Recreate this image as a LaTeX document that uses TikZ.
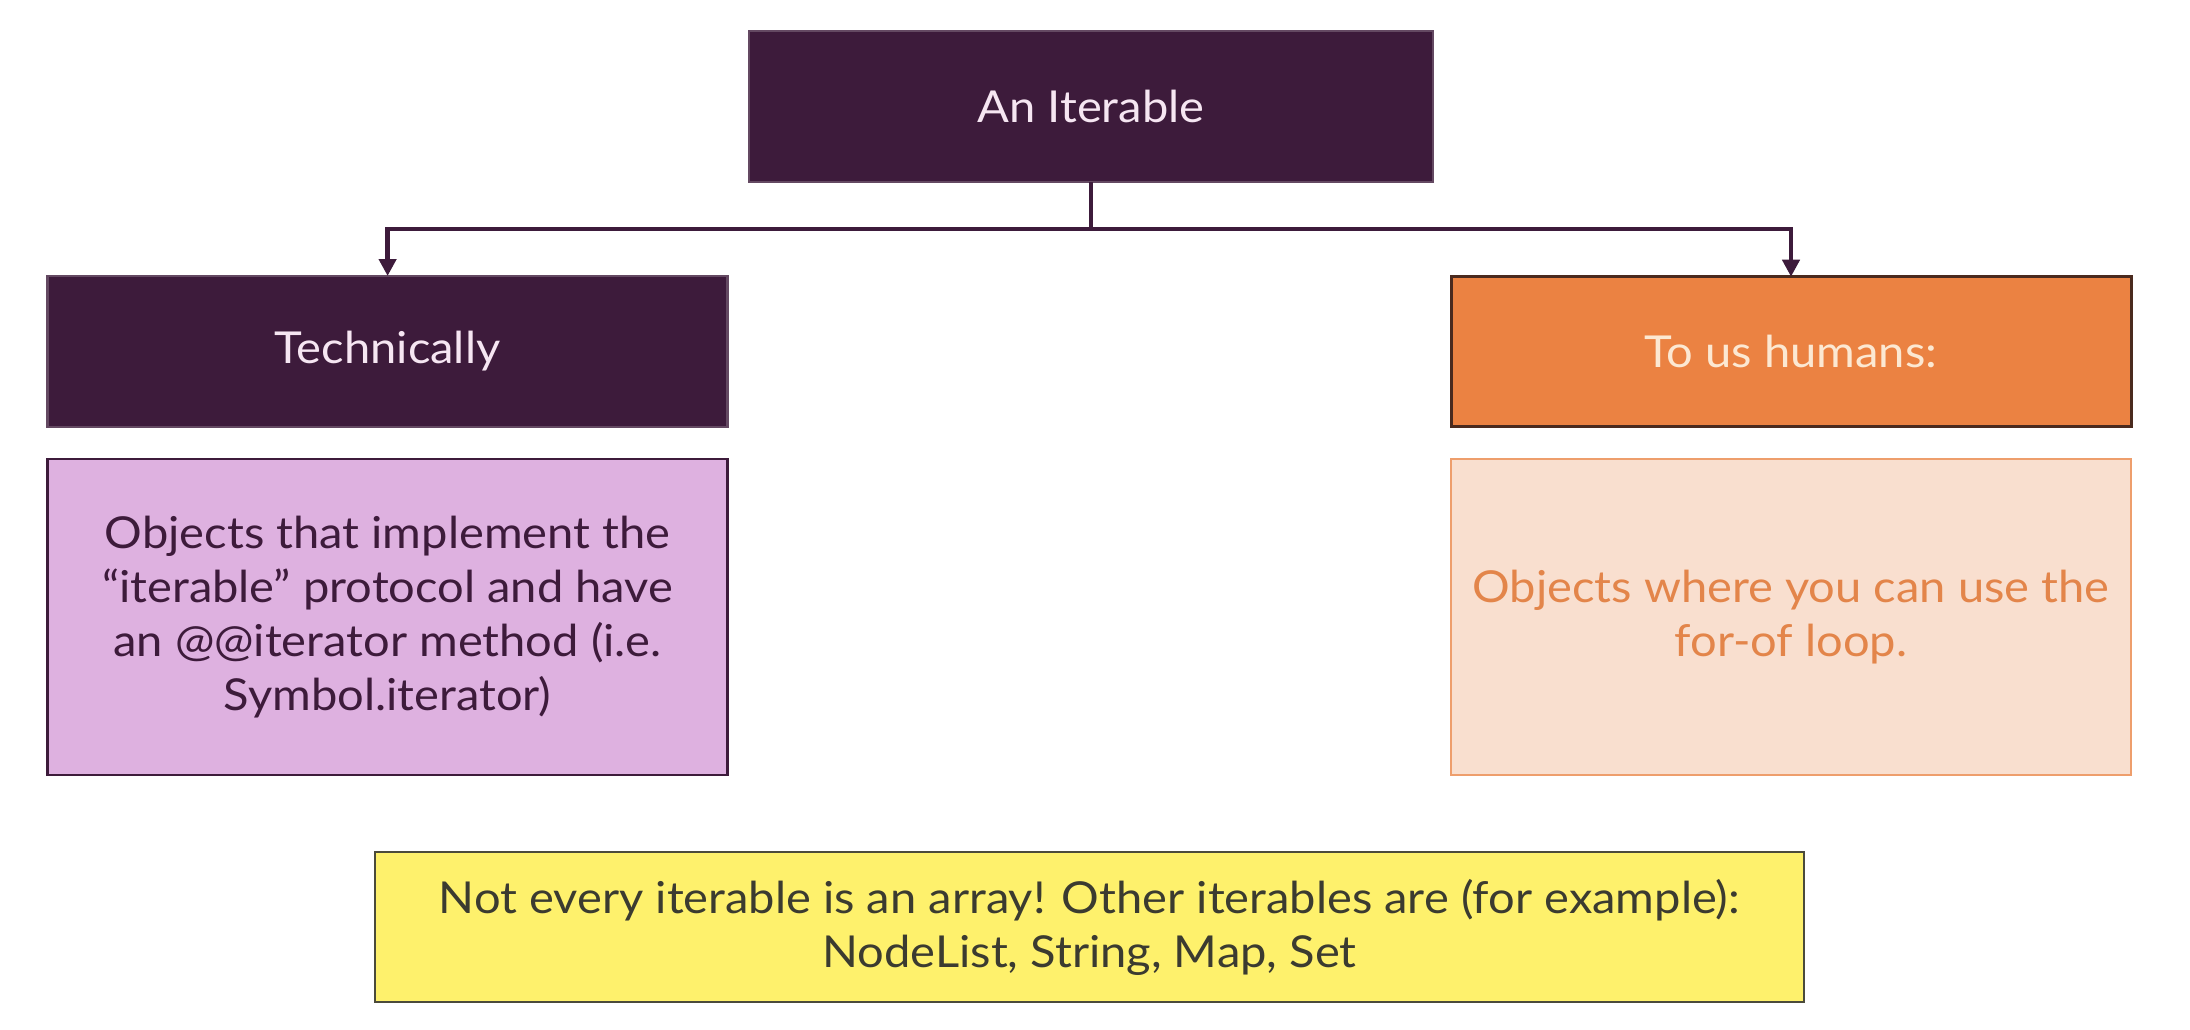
\documentclass[tikz,border=0pt]{standalone}
\usepackage{fontspec}
\setmainfont{Lato}[FakeStretch=1.07]
\usetikzlibrary{arrows.meta}
\definecolor{darkp}{HTML}{3D1B3B}
\definecolor{orangebox}{HTML}{EB8242}
\definecolor{orangeedge}{HTML}{4A2A1E}
\definecolor{lav}{HTML}{DEB1E0}
\definecolor{peach}{HTML}{F9DFCF}
\definecolor{peachedge}{HTML}{EE9E6C}
\definecolor{peachtext}{HTML}{E3854A}
\definecolor{yel}{HTML}{FEF16C}
\definecolor{yeledge}{HTML}{4B4B3B}
\definecolor{yeltext}{HTML}{3B3B30}
\definecolor{humtext}{HTML}{FCE8D2}
\definecolor{toptext}{HTML}{F6E6F2}
\tikzset{
  box/.style={rectangle, inner sep=0pt, outer sep=0pt, line width=2.5pt, align=center,
    font=\fontsize{44}{54}\selectfont},
  headbox/.style={box, fill=darkp, draw=darkp!80!white, text=toptext},
  humbox/.style={box, fill=orangebox, draw=orangeedge, line width=3pt, text=humtext},
  lavbox/.style={box, fill=lav, draw=darkp, text=darkp},
  peachbox/.style={box, fill=peach, draw=peachedge, text=peachtext},
  notebox/.style={box, fill=yel, draw=yeledge, line width=2.7pt, text=yeltext},
  conn/.style={draw=darkp, line width=4.5pt, -{Triangle[length=17pt,width=17pt]}}
}
\begin{document}
\begin{tikzpicture}[x=1pt,y=-1pt]
\fill[white] (0,0) rectangle (2190,1030);
\useasboundingbox (0,0) rectangle (2190,1030);
\node[headbox, minimum width=684pt, minimum height=151pt] (top) at (1091,106.5) {An Iterable};
\node[headbox, minimum width=680pt, minimum height=151pt] (tech) at (387.6,351.5) {Technically};
\node[humbox, minimum width=680pt, minimum height=150pt] (hum) at (1791,351.7) {To us humans:};
\node[lavbox, minimum width=680pt, minimum height=316pt] (techbody) at (387.6,616.8)
  {Objects that implement the\\``iterable'' protocol and have\\an @@iterator method (i.e.\\Symbol.iterator)};
\node[peachbox, minimum width=680pt, minimum height=316pt] (humbody) at (1791,616.8)
  {Objects where you can use the\\for-of loop.};
\node[notebox, minimum width=1429pt, minimum height=150pt] (note) at (1089.5,927)
  {Not every iterable is an array! Other iterables are (for example):\\NodeList, String, Map, Set};
\coordinate (j) at (1091,229);
\draw[conn] (top.south) -- (j) -| (tech.north);
\draw[conn] (top.south) -- (j) -| (hum.north);
\end{tikzpicture}
\end{document}
